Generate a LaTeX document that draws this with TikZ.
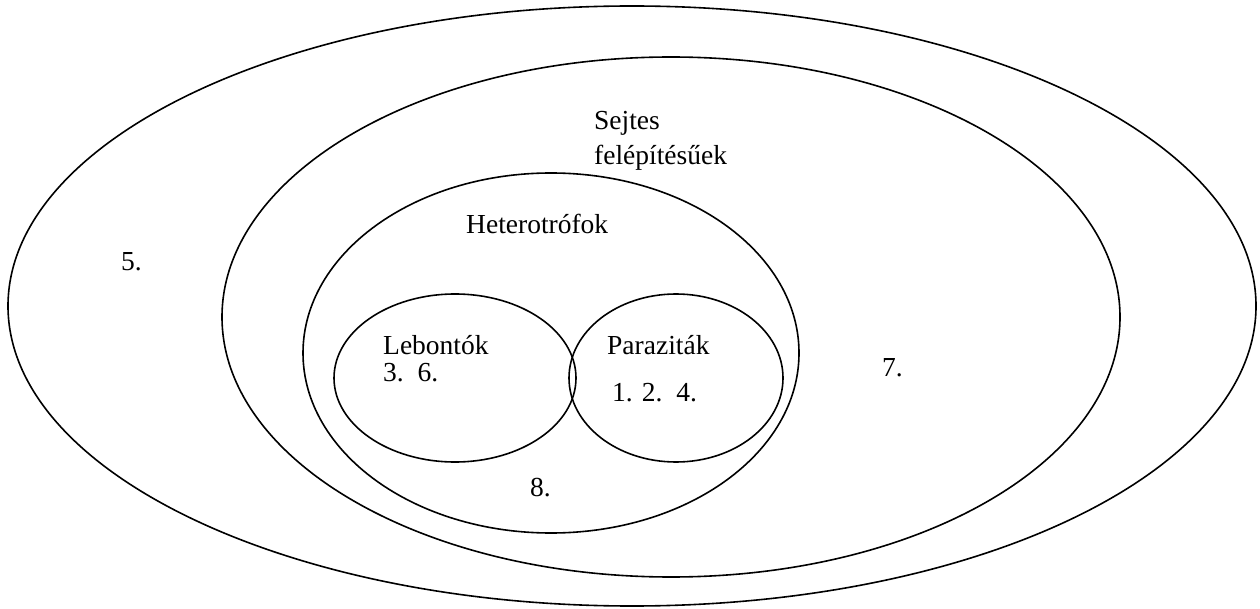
\documentclass[tikz,border=0pt]{standalone}
\usepackage{fontspec}
\setmainfont{Liberation Serif}
\begin{document}
\begin{tikzpicture}[x=1pt,y=-1pt,
  ring/.style={draw=black,line width=1.6pt},
  lbl/.style={anchor=west,inner sep=0pt,font=\rmfamily\fontsize{27.5}{33}\selectfont}]
\useasboundingbox[fill=white] (0,0) rectangle (1260,609);
\draw[ring] (632,306) ellipse [x radius=624,y radius=300];
\draw[ring] (671,317) ellipse [x radius=449,y radius=260];
\draw[ring] (551,353) ellipse [x radius=248,y radius=180];
\draw[ring] (455,378) ellipse [x radius=121,y radius=84];
\draw[ring] (676,378) ellipse [x radius=107,y radius=84];
\node[lbl] (n5) at (121,262) {5.};
\node[lbl] (sejt) at (594,123) {Sejtes};
\node[lbl] (fel) at (594,158) {felépítésűek};
\node[lbl] (het) at (466,224) {Heterotrófok};
\node[lbl] (leb) at (383,345) {Lebontók};
\node[lbl] (n36) at (383,373) {3.\ \ 6.};
\node[lbl] (par) at (607,345) {Paraziták};
\node[lbl] (n124) at (612,393) {1. 2.\ \ 4.};
\node[lbl] (n7) at (882,368) {7.};
\node[lbl] (n8) at (530,488) {8.};
\end{tikzpicture}
\end{document}
